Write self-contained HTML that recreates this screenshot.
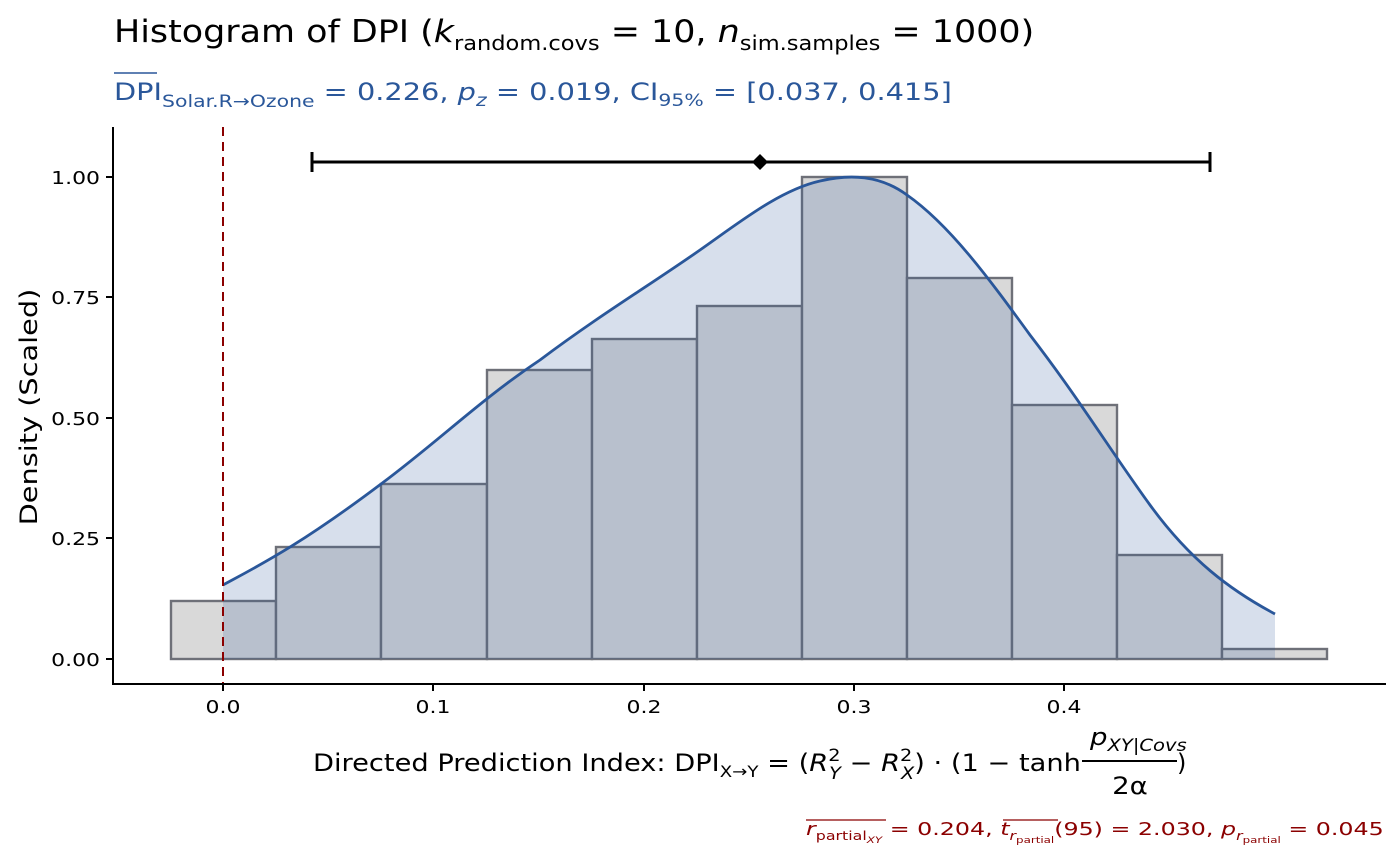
<!DOCTYPE html>
<html><head><meta charset="utf-8"><style>
html,body{margin:0;padding:0;background:#fff}
svg{display:block;font-family:"DejaVu Sans","Liberation Sans",sans-serif}
</style></head><body>
<svg width="1400" height="866" viewBox="0 0 1400 866" xmlns="http://www.w3.org/2000/svg">
<rect width="1400" height="866" fill="#fff"/>
<g transform="translate(114,42) scale(1.126,1)">
<text x="0" y="0" font-size="31" fill="#000">Histogram of DPI (<tspan font-style="italic">k</tspan><tspan font-size="20" dy="8">random.covs</tspan><tspan dy="-8"> = 10, </tspan><tspan font-style="italic">n</tspan><tspan font-size="20" dy="8">sim.samples</tspan><tspan dy="-8"> = 1000)</tspan></text>
</g>
<line x1="114" y1="73" x2="157" y2="73" stroke="#2a579a" stroke-width="1.5"/>
<g transform="translate(114,100) scale(1.2,1)">
<text x="0" y="0" font-size="24" fill="#2a579a">DPI<tspan font-size="17" dy="7">Solar.R</tspan><tspan font-size="17">→Ozone</tspan><tspan dy="-7"> = 0.226, </tspan><tspan font-style="italic">p</tspan><tspan font-size="17" font-style="italic" dy="6">z</tspan><tspan dy="-6"> = 0.019, CI</tspan><tspan font-size="17" dy="6">95%</tspan><tspan dy="-6"> = [0.037, 0.415]</tspan></text>
</g>
<!-- bars -->
<g fill="#d9d9d9" stroke="#6e7078" stroke-width="2.4">
<rect x="171" y="601" width="105" height="58"/>
<rect x="276" y="547" width="105" height="112"/>
<rect x="381" y="484" width="106" height="175"/>
<rect x="487" y="370" width="105" height="289"/>
<rect x="592" y="339" width="105" height="320"/>
<rect x="697" y="306" width="105" height="353"/>
<rect x="802" y="177" width="105" height="482"/>
<rect x="907" y="278" width="105" height="381"/>
<rect x="1012" y="405" width="105" height="254"/>
<rect x="1117" y="555" width="105" height="104"/>
<rect x="1222" y="649" width="105" height="10"/>
</g>
<path d="M223,585 C260,565 300,545 381,484 C440,440 480,400 540,360 C600,315 650,285 700,250 C740,222 780,190 820,181 C850,174 880,175 907,195 C950,225 990,280 1030,335 C1080,400 1110,450 1150,505 C1190,560 1230,590 1275,614 L1275,659 L223,659 Z" fill="#2a579a" fill-opacity="0.19"/>
<path d="M223,585 C260,565 300,545 381,484 C440,440 480,400 540,360 C600,315 650,285 700,250 C740,222 780,190 820,181 C850,174 880,175 907,195 C950,225 990,280 1030,335 C1080,400 1110,450 1150,505 C1190,560 1230,590 1275,614" fill="none" stroke="#2a579a" stroke-width="2.8"/>
<line x1="223" y1="127" x2="223" y2="684" stroke="#8b0000" stroke-width="2" stroke-dasharray="9,6"/>
<!-- CI -->
<g stroke="#000" stroke-width="3">
<line x1="312" y1="162" x2="1210" y2="162"/>
<line x1="312" y1="152" x2="312" y2="172"/>
<line x1="1210" y1="152" x2="1210" y2="172"/>
</g>
<polygon points="760,154 768,162 760,170 752,162" fill="#000"/>
<!-- axes -->
<line x1="113" y1="127" x2="113" y2="685" stroke="#000" stroke-width="2"/>
<line x1="112" y1="684" x2="1386" y2="684" stroke="#000" stroke-width="2"/>
<g stroke="#000" stroke-width="2">
<line x1="106" y1="177" x2="113" y2="177"/><line x1="106" y1="297" x2="113" y2="297"/><line x1="106" y1="418" x2="113" y2="418"/><line x1="106" y1="538" x2="113" y2="538"/><line x1="106" y1="659" x2="113" y2="659"/>
<line x1="223" y1="684" x2="223" y2="691"/><line x1="433" y1="684" x2="433" y2="691"/><line x1="644" y1="684" x2="644" y2="691"/><line x1="854" y1="684" x2="854" y2="691"/><line x1="1064" y1="684" x2="1064" y2="691"/>
</g>
<g font-size="18" fill="#000" text-anchor="end">
<g transform="translate(100,184) scale(1.22,1)"><text>1.00</text></g>
<g transform="translate(100,304) scale(1.22,1)"><text>0.75</text></g>
<g transform="translate(100,425) scale(1.22,1)"><text>0.50</text></g>
<g transform="translate(100,545) scale(1.22,1)"><text>0.25</text></g>
<g transform="translate(100,666) scale(1.22,1)"><text>0.00</text></g>
</g>
<g font-size="18" fill="#000" text-anchor="middle">
<g transform="translate(223,713) scale(1.22,1)"><text>0.0</text></g>
<g transform="translate(433,713) scale(1.22,1)"><text>0.1</text></g>
<g transform="translate(644,713) scale(1.22,1)"><text>0.2</text></g>
<g transform="translate(854,713) scale(1.22,1)"><text>0.3</text></g>
<g transform="translate(1064,713) scale(1.22,1)"><text>0.4</text></g>
</g>
<g transform="translate(37,407) rotate(-90) scale(1.2,1)"><text font-size="24" text-anchor="middle">Density (Scaled)</text></g>
<g transform="translate(313,771) scale(1.136,1)">
<text x="0" y="0" font-size="24">Directed Prediction Index: DPI<tspan font-size="16" dy="6">X→Y</tspan><tspan dy="-6"> = (</tspan><tspan font-style="italic">R</tspan><tspan font-size="17" dy="-10">2</tspan><tspan font-size="17" font-style="italic" dx="-10" dy="18">Y</tspan><tspan dy="-8"> − </tspan><tspan font-style="italic">R</tspan><tspan font-size="17" dy="-10">2</tspan><tspan font-size="17" font-style="italic" dx="-10" dy="18">X</tspan><tspan dy="-8">) · (1 − tanh</tspan></text>
</g>
<g transform="translate(1090,745) scale(1.15,1)"><text font-size="24" font-style="italic">p<tspan font-size="17" dy="6">XY|Covs</tspan></text></g>
<line x1="1082" y1="761" x2="1177" y2="761" stroke="#000" stroke-width="2"/>
<g transform="translate(1130,794) scale(1.15,1)"><text font-size="24" text-anchor="middle">2α</text></g>
<text x="1177" y="771" font-size="24">)</text>
<line x1="806" y1="820" x2="886" y2="820" stroke="#8b0000" stroke-width="1.3"/>
<line x1="1003" y1="820" x2="1058" y2="820" stroke="#8b0000" stroke-width="1.3"/>
<g transform="translate(806,835) scale(1.32,1)">
<text x="0" y="0" font-size="18" fill="#8b0000"><tspan font-style="italic">r</tspan><tspan font-size="12" dy="5">partial</tspan><tspan font-size="9" font-style="italic" dy="3">XY</tspan><tspan dy="-8"> = 0.204, </tspan><tspan font-style="italic">t</tspan><tspan font-size="12" font-style="italic" dy="5">r</tspan><tspan font-size="9" dy="3">partial</tspan><tspan dy="-8">(95) = 2.030, </tspan><tspan font-style="italic">p</tspan><tspan font-size="12" font-style="italic" dy="5">r</tspan><tspan font-size="9" dy="3">partial</tspan><tspan dy="-8"> = 0.045</tspan></text>
</g>
</svg>
</body></html>
